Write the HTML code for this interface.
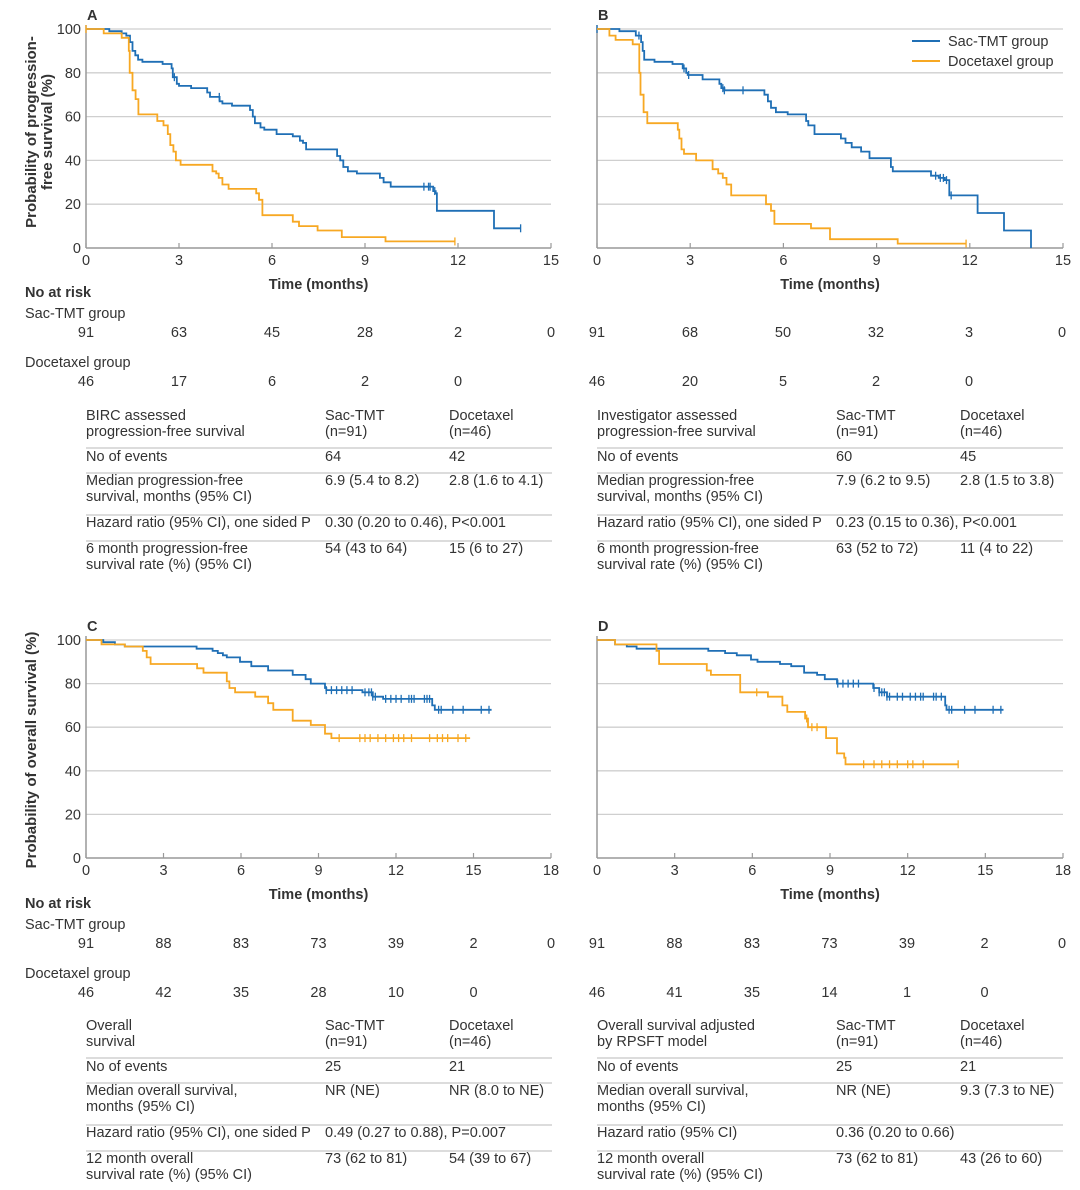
<!DOCTYPE html>
<html><head><meta charset="utf-8">
<style>
html,body{margin:0;padding:0;background:#fff;}
svg{display:block;font-family:"Liberation Sans",sans-serif;}
text{fill:#333;font-size:14.5px;}
.b{font-weight:bold;}
</style></head>
<body>
<svg id="s" width="1080" height="1190" xmlns="http://www.w3.org/2000/svg"></svg>
<script>
const S=document.getElementById('s');const NS='http://www.w3.org/2000/svg';
function el(t,a,txt){const e=document.createElementNS(NS,t);for(const k in a)e.setAttribute(k,a[k]);if(txt!==undefined)e.textContent=txt;S.appendChild(e);return e;}
function T(x,y,s,o){o=o||{};const a={x:x,y:y};if(o.a)a['text-anchor']=o.a;if(o.c)a['class']=o.c;if(o.fs)a.style='font-size:'+o.fs+'px';if(o.tr)a.transform=o.tr;return el('text',a,s);}
const BL='#1f6fb5',OR='#f7a823';
function panel(x0,y0,w,h,xmax,step,label,series,ylab){
  const X=m=>x0+m*w/xmax, Y=v=>y0+h-v*h/100;
  for(let v=20;v<=100;v+=20) el('line',{x1:x0,x2:x0+w,y1:Y(v),y2:Y(v),stroke:'#cfcfcf','stroke-width':1.3});
  el('line',{x1:x0,x2:x0,y1:y0-4,y2:y0+h,stroke:'#999','stroke-width':1.5});
  el('line',{x1:x0,x2:x0+w,y1:y0+h,y2:y0+h,stroke:'#999','stroke-width':1.5});
  for(let m=0;m<=xmax;m+=step){el('line',{x1:X(m),x2:X(m),y1:y0+h,y2:y0+h-5,stroke:'#999','stroke-width':1.2});T(X(m),y0+h+17,String(m),{a:'middle'});}
  if(ylab) for(let v=0;v<=100;v+=20) T(x0-5,Y(v)+5,String(v),{a:'end'});
  T(x0+1,y0-9,label,{c:'b'});
  T(x0+w*0.5,y0+h+41,'Time (months)',{c:'b',a:'middle'});
  for(const s of series){
    let d='M'+X(0)+','+Y(100);let cur=100;
    for(const [t,v] of s.p){d+=' L'+X(t).toFixed(1)+','+Y(cur).toFixed(1)+' L'+X(t).toFixed(1)+','+Y(v).toFixed(1);cur=v;}
    d+=' L'+X(s.end).toFixed(1)+','+Y(cur).toFixed(1);
    el('path',{d:d,fill:'none',stroke:s.c,'stroke-width':1.8});
    const val=t=>{let c=100;for(const [tt,v] of s.p){if(tt<=t)c=v;}return c;};
    for(const t of (s.cz||[])){const yy=Y(val(t));el('line',{x1:X(t),x2:X(t),y1:yy-4,y2:yy+4,stroke:s.c,'stroke-width':1.3});}
  }
}
panel(86,29,465,219,15,3,'A',[
 {c:BL,end:14.02,cz:[2.85,4.3,10.9,11.05,11.1,11.25,14.02],p:[[0.75,99],[1.15,98],[1.3,97],[1.42,94],[1.5,90],[1.59,88],[1.68,86],[1.82,85],[2.47,84],[2.76,82],[2.8,78],[2.93,75],[3.0,74],[3.39,73],[3.91,71],[4.0,69],[4.31,67],[4.4,66],[4.71,65],[5.29,63],[5.38,60],[5.45,57],[5.63,55],[5.75,54],[6.15,52],[6.67,51],[6.9,49],[7.0,48],[7.1,45],[8.1,42],[8.2,40],[8.3,37],[8.45,35],[8.74,34],[9.48,32],[9.6,30],[9.83,28],[11.2,26],[11.28,25],[11.32,17],[13.16,9]]},
 {c:OR,end:11.9,cz:[0,11.9],p:[[0.57,98],[1.15,96],[1.38,90],[1.41,80],[1.5,72],[1.6,68],[1.69,61],[2.3,58],[2.5,56],[2.64,52],[2.72,47],[2.82,44],[2.9,40],[3.05,38],[4.08,35],[4.2,34],[4.28,32],[4.4,29],[4.6,27],[5.49,25],[5.58,22],[5.69,15],[6.67,12],[6.87,10],[7.47,8],[8.25,5],[9.66,3]]}
],true);
panel(597,29,466,219,15,3,'B',[
 {c:BL,end:13.97,cz:[0,1.35,2.8,2.95,4.05,4.1,4.7,10.9,11.05,11.15,11.25,11.4],p:[[0.72,99],[1.25,97],[1.42,94],[1.47,90],[1.52,86],[1.85,85],[2.43,84],[2.76,82],[2.87,80],[2.92,79],[3.4,77],[3.94,75],[4.0,73],[4.1,72],[5.39,70],[5.5,67],[5.6,64],[5.76,62],[6.14,61],[6.73,58],[6.8,56],[7.0,52],[7.85,50],[8.0,48],[8.2,46],[8.5,44],[8.77,41],[9.46,37],[9.52,35],[10.75,33],[11.0,32],[11.2,31],[11.34,24],[12.25,16],[13.1,8],[13.97,0]]},
 {c:OR,end:11.88,cz:[11.88],p:[[0.4,97],[0.6,95],[1.15,93],[1.36,80],[1.4,70],[1.5,62],[1.62,57],[2.6,54],[2.65,50],[2.72,45],[2.8,43],[3.19,40],[3.72,36],[3.9,34],[4.05,32],[4.17,29],[4.32,24],[5.44,20],[5.6,17],[5.71,11],[6.89,9],[7.5,4],[9.68,2]]}
],false);
panel(86,640,465,218,18,3,'C',[
 {c:BL,end:15.7,cz:[9.3,9.5,9.7,9.9,10.1,10.3,10.8,10.95,11.05,11.1,11.2,11.6,11.8,12.0,12.2,12.5,12.6,12.7,13.1,13.2,13.3,13.65,13.75,14.2,14.6,15.3,15.6],p:[[0.67,99],[1.12,98],[1.5,97],[4.28,96],[4.9,95],[5.1,94],[5.3,93],[5.45,92],[5.96,90],[6.4,88],[7.05,86],[8.0,84],[8.5,82],[8.7,80],[9.25,78],[9.3,77],[10.7,76],[11.1,74],[11.5,73],[13.4,70],[13.5,68]]},
 {c:OR,end:14.87,cz:[9.8,10.6,10.8,11.0,11.3,11.6,11.9,12.1,12.3,12.6,13.3,13.6,13.8,14.0,14.4,14.7],p:[[0.6,98],[1.5,97],[2.2,95],[2.35,92],[2.5,89],[3.05,89],[4.3,87],[4.55,85],[5.45,81],[5.55,78],[5.77,76],[6.55,74],[7.05,71],[7.25,68],[8.0,63],[8.7,61],[9.25,57],[9.5,55]]}
],true);
panel(597,640,466,218,18,3,'D',[
 {c:BL,end:15.7,cz:[9.3,9.5,9.7,9.9,10.1,10.7,10.9,11.0,11.1,11.2,11.3,11.6,11.8,12.1,12.3,12.5,12.6,13.0,13.1,13.3,13.6,13.7,14.2,14.6,15.3,15.6],p:[[0.7,98],[1.15,97],[1.53,96],[4.3,95],[4.95,94],[5.4,93],[5.95,91],[6.2,90],[7.07,89],[7.5,88],[8.0,85],[8.5,84],[8.8,82],[9.27,80],[10.67,78],[10.9,76],[11.2,74],[13.45,70],[13.5,68]]},
 {c:OR,end:13.95,cz:[6.17,8.1,8.3,8.5,10.3,10.7,11.0,11.3,11.6,12.0,12.2,12.6,13.95],p:[[0.7,98],[2.3,95],[2.4,89],[4.24,86],[4.4,84],[5.53,76],[6.6,74],[7.16,70],[7.35,67],[8.04,64],[8.15,60],[8.85,55],[9.27,48],[9.55,46],[9.6,43]]}
],false);
T(36,132,'Probability of progression-',{c:'b',a:'middle',tr:'rotate(-90 36 132)',fs:15});
T(52,132,'free survival (%)',{c:'b',a:'middle',tr:'rotate(-90 52 132)',fs:15});
T(36,750,'Probability of overall survival (%)',{c:'b',a:'middle',tr:'rotate(-90 36 750)',fs:15});
el('line',{x1:912,x2:940,y1:41,y2:41,stroke:BL,'stroke-width':2});T(948,46,'Sac-TMT group');
el('line',{x1:912,x2:940,y1:61,y2:61,stroke:OR,'stroke-width':2});T(948,66,'Docetaxel group');
function risk(y,xs,a,b){T(25,y,'No at risk',{c:'b'});T(25,y+21,'Sac-TMT group');T(25,y+70,'Docetaxel group');
 const L=[[86,a[0]],[597,a[1]]],M=[[86,b[0]],[597,b[1]]];
 for(const [x0,arr] of L) arr.forEach((v,i)=>T(x0+i*xs,y+40,v,{a:'middle'}));
 for(const [x0,arr] of M) arr.forEach((v,i)=>T(x0+i*xs,y+89,v,{a:'middle'}));}
risk(297,93,[['91','63','45','28','2','0'],['91','68','50','32','3','0']],[['46','17','6','2','0'],['46','20','5','2','0']]);
risk(908,77.5,[['91','88','83','73','39','2','0'],['91','88','83','73','39','2','0']],[['46','42','35','28','10','0'],['46','41','35','14','1','0']]);
function table(x0,y,rows){const c1=x0+239,c2=x0+363;
 const lines=[443,468,510,536];lines.forEach(l=>el('line',{x1:x0,x2:x0+466,y1:y+l-415,y2:y+l-415,stroke:'#c8c8c8','stroke-width':1.2}));
 const ys=[0,41,65,107,133];
 rows.forEach((r,i)=>{const yy=y+ys[i];
  r[0].split('|').forEach((s,j)=>T(x0,yy+j*16,s));
  if(r[1])r[1].split('|').forEach((s,j)=>T(c1,yy+j*16,s));
  if(r[2])r[2].split('|').forEach((s,j)=>T(c2,yy+j*16,s));});}
table(86,420,[['BIRC assessed|progression-free survival','Sac-TMT|(n=91)','Docetaxel|(n=46)'],['No of events','64','42'],['Median progression-free|survival, months (95% CI)','6.9 (5.4 to 8.2)','2.8 (1.6 to 4.1)'],['Hazard ratio (95% CI), one sided P','0.30 (0.20 to 0.46), P<0.001',''],['6 month progression-free|survival rate (%) (95% CI)','54 (43 to 64)','15 (6 to 27)']]);
table(597,420,[['Investigator assessed|progression-free survival','Sac-TMT|(n=91)','Docetaxel|(n=46)'],['No of events','60','45'],['Median progression-free|survival, months (95% CI)','7.9 (6.2 to 9.5)','2.8 (1.5 to 3.8)'],['Hazard ratio (95% CI), one sided P','0.23 (0.15 to 0.36), P<0.001',''],['6 month progression-free|survival rate (%) (95% CI)','63 (52 to 72)','11 (4 to 22)']]);
table(86,1030,[['Overall|survival','Sac-TMT|(n=91)','Docetaxel|(n=46)'],['No of events','25','21'],['Median overall survival,|months (95% CI)','NR (NE)','NR (8.0 to NE)'],['Hazard ratio (95% CI), one sided P','0.49 (0.27 to 0.88), P=0.007',''],['12 month overall|survival rate (%) (95% CI)','73 (62 to 81)','54 (39 to 67)']]);
table(597,1030,[['Overall survival adjusted|by RPSFT model','Sac-TMT|(n=91)','Docetaxel|(n=46)'],['No of events','25','21'],['Median overall survival,|months (95% CI)','NR (NE)','9.3 (7.3 to NE)'],['Hazard ratio (95% CI)','0.36 (0.20 to 0.66)',''],['12 month overall|survival rate (%) (95% CI)','73 (62 to 81)','43 (26 to 60)']]);
</script>
</body></html>
